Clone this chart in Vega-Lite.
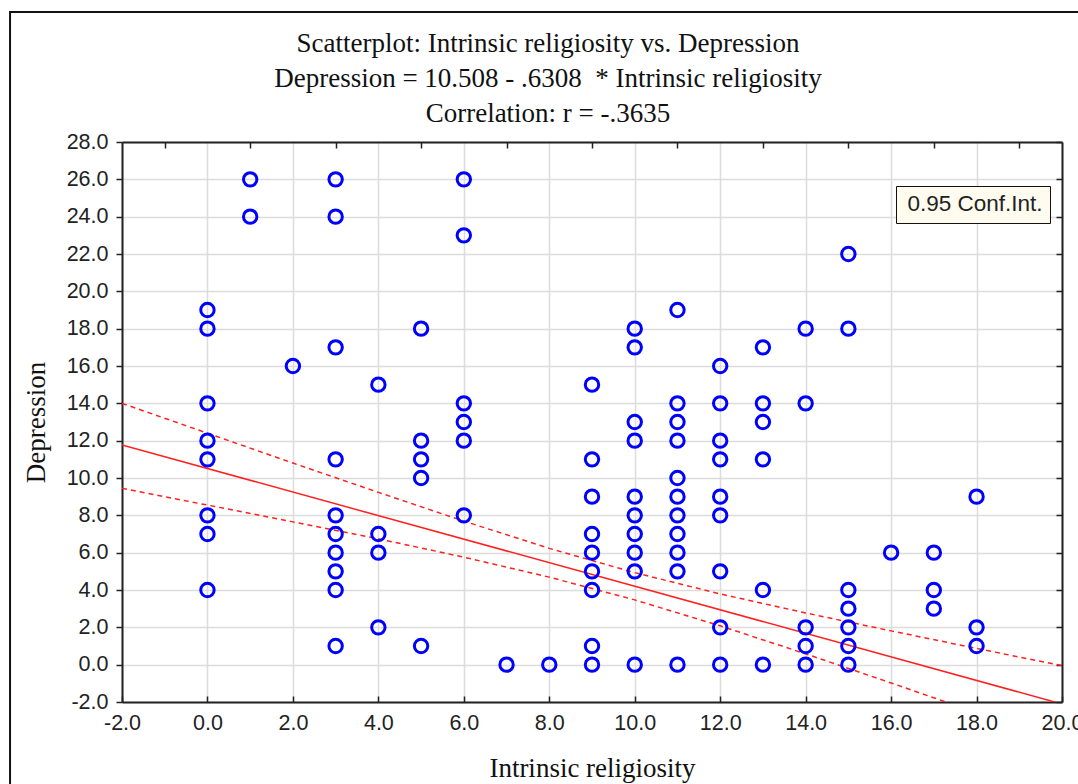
{
  "$schema": "https://vega.github.io/schema/vega-lite/v6.json",
  "width": 940,
  "height": 560,
  "autosize": "none",
  "padding": {"left": 122, "top": 142, "right": 16, "bottom": 82},
  "background": "white",
  "title": {
    "text": ["Scatterplot: Intrinsic religiosity vs. Depression", "Depression = 10.508 - .6308 \u00a0* Intrinsic religiosity", "Correlation: r = -.3635"],
    "font": "Liberation Serif",
    "fontSize": 27,
    "fontWeight": "normal",
    "color": "#111111",
    "lineHeight": 35,
    "anchor": "middle",
    "dx": -44,
    "offset": -117
  },
  "config": {
    "view": {"stroke": null},
    "axis": {
      "labelFont": "Liberation Sans",
      "labelFontSize": 21.5,
      "labelColor": "#222222",
      "labelOverlap": false,
      "labelFlush": false,
      "labelBound": false,
      "titleFont": "Liberation Serif",
      "titleFontSize": 27,
      "titleFontWeight": "normal",
      "titleColor": "#111111",
      "domainColor": "#222222",
      "domainWidth": 2,
      "ticks": true,
      "tickColor": "#222222",
      "tickWidth": 1.5,
      "gridColor": "#dcdcdc",
      "gridWidth": 1.5
    }
  },
  "resolve": {"axis": {"x": "independent", "y": "independent"}},
  "datasets": {
    "points": [
      {"religiosity": 0, "depression": 19}, {"religiosity": 0, "depression": 18}, {"religiosity": 0, "depression": 14}, {"religiosity": 0, "depression": 12}, {"religiosity": 0, "depression": 11}, {"religiosity": 0, "depression": 8}, {"religiosity": 0, "depression": 7}, {"religiosity": 0, "depression": 4},
      {"religiosity": 1, "depression": 26}, {"religiosity": 1, "depression": 24},
      {"religiosity": 2, "depression": 16},
      {"religiosity": 3, "depression": 26}, {"religiosity": 3, "depression": 24}, {"religiosity": 3, "depression": 17}, {"religiosity": 3, "depression": 11}, {"religiosity": 3, "depression": 8}, {"religiosity": 3, "depression": 7}, {"religiosity": 3, "depression": 6}, {"religiosity": 3, "depression": 5}, {"religiosity": 3, "depression": 4}, {"religiosity": 3, "depression": 1},
      {"religiosity": 4, "depression": 15}, {"religiosity": 4, "depression": 7}, {"religiosity": 4, "depression": 6}, {"religiosity": 4, "depression": 2},
      {"religiosity": 5, "depression": 18}, {"religiosity": 5, "depression": 12}, {"religiosity": 5, "depression": 11}, {"religiosity": 5, "depression": 10}, {"religiosity": 5, "depression": 1},
      {"religiosity": 6, "depression": 26}, {"religiosity": 6, "depression": 23}, {"religiosity": 6, "depression": 14}, {"religiosity": 6, "depression": 13}, {"religiosity": 6, "depression": 12}, {"religiosity": 6, "depression": 8},
      {"religiosity": 7, "depression": 0},
      {"religiosity": 8, "depression": 0},
      {"religiosity": 9, "depression": 15}, {"religiosity": 9, "depression": 11}, {"religiosity": 9, "depression": 9}, {"religiosity": 9, "depression": 7}, {"religiosity": 9, "depression": 6}, {"religiosity": 9, "depression": 5}, {"religiosity": 9, "depression": 4}, {"religiosity": 9, "depression": 1}, {"religiosity": 9, "depression": 0},
      {"religiosity": 10, "depression": 18}, {"religiosity": 10, "depression": 17}, {"religiosity": 10, "depression": 13}, {"religiosity": 10, "depression": 12}, {"religiosity": 10, "depression": 9}, {"religiosity": 10, "depression": 8}, {"religiosity": 10, "depression": 7}, {"religiosity": 10, "depression": 6}, {"religiosity": 10, "depression": 5}, {"religiosity": 10, "depression": 0},
      {"religiosity": 11, "depression": 19}, {"religiosity": 11, "depression": 14}, {"religiosity": 11, "depression": 13}, {"religiosity": 11, "depression": 12}, {"religiosity": 11, "depression": 10}, {"religiosity": 11, "depression": 9}, {"religiosity": 11, "depression": 8}, {"religiosity": 11, "depression": 7}, {"religiosity": 11, "depression": 6}, {"religiosity": 11, "depression": 5}, {"religiosity": 11, "depression": 0},
      {"religiosity": 12, "depression": 16}, {"religiosity": 12, "depression": 14}, {"religiosity": 12, "depression": 12}, {"religiosity": 12, "depression": 11}, {"religiosity": 12, "depression": 9}, {"religiosity": 12, "depression": 8}, {"religiosity": 12, "depression": 5}, {"religiosity": 12, "depression": 2}, {"religiosity": 12, "depression": 0},
      {"religiosity": 13, "depression": 17}, {"religiosity": 13, "depression": 14}, {"religiosity": 13, "depression": 13}, {"religiosity": 13, "depression": 11}, {"religiosity": 13, "depression": 4}, {"religiosity": 13, "depression": 0},
      {"religiosity": 14, "depression": 18}, {"religiosity": 14, "depression": 14}, {"religiosity": 14, "depression": 2}, {"religiosity": 14, "depression": 1}, {"religiosity": 14, "depression": 0},
      {"religiosity": 15, "depression": 22}, {"religiosity": 15, "depression": 18}, {"religiosity": 15, "depression": 4}, {"religiosity": 15, "depression": 3}, {"religiosity": 15, "depression": 2}, {"religiosity": 15, "depression": 1}, {"religiosity": 15, "depression": 0},
      {"religiosity": 16, "depression": 6},
      {"religiosity": 17, "depression": 6}, {"religiosity": 17, "depression": 4}, {"religiosity": 17, "depression": 3},
      {"religiosity": 18, "depression": 9}, {"religiosity": 18, "depression": 2}, {"religiosity": 18, "depression": 1}
    ],
    "fit": [
      {"religiosity": -2, "depression": 11.77},
      {"religiosity": 20, "depression": -2.108}
    ],
    "band": [
      {"religiosity": -2, "depression": 14.0, "bound": "upper", "ci": "0.95 Conf.Int."},
      {"religiosity": 0, "depression": 12.4, "bound": "upper", "ci": "0.95 Conf.Int."},
      {"religiosity": 2, "depression": 10.8, "bound": "upper", "ci": "0.95 Conf.Int."},
      {"religiosity": 4, "depression": 9.23, "bound": "upper", "ci": "0.95 Conf.Int."},
      {"religiosity": 6, "depression": 7.69, "bound": "upper", "ci": "0.95 Conf.Int."},
      {"religiosity": 8, "depression": 6.23, "bound": "upper", "ci": "0.95 Conf.Int."},
      {"religiosity": 10, "depression": 4.93, "bound": "upper", "ci": "0.95 Conf.Int."},
      {"religiosity": 12, "depression": 3.79, "bound": "upper", "ci": "0.95 Conf.Int."},
      {"religiosity": 14, "depression": 2.77, "bound": "upper", "ci": "0.95 Conf.Int."},
      {"religiosity": 16, "depression": 1.81, "bound": "upper", "ci": "0.95 Conf.Int."},
      {"religiosity": 18, "depression": 0.87, "bound": "upper", "ci": "0.95 Conf.Int."},
      {"religiosity": 20, "depression": -0.05, "bound": "upper", "ci": "0.95 Conf.Int."},
      {"religiosity": -2, "depression": 9.45, "bound": "lower", "ci": "0.95 Conf.Int."},
      {"religiosity": 0, "depression": 8.55, "bound": "lower", "ci": "0.95 Conf.Int."},
      {"religiosity": 2, "depression": 7.65, "bound": "lower", "ci": "0.95 Conf.Int."},
      {"religiosity": 4, "depression": 6.74, "bound": "lower", "ci": "0.95 Conf.Int."},
      {"religiosity": 6, "depression": 5.76, "bound": "lower", "ci": "0.95 Conf.Int."},
      {"religiosity": 8, "depression": 4.69, "bound": "lower", "ci": "0.95 Conf.Int."},
      {"religiosity": 10, "depression": 3.47, "bound": "lower", "ci": "0.95 Conf.Int."},
      {"religiosity": 12, "depression": 2.08, "bound": "lower", "ci": "0.95 Conf.Int."},
      {"religiosity": 14, "depression": 0.58, "bound": "lower", "ci": "0.95 Conf.Int."},
      {"religiosity": 16, "depression": -0.98, "bound": "lower", "ci": "0.95 Conf.Int."},
      {"religiosity": 18, "depression": -2.57, "bound": "lower", "ci": "0.95 Conf.Int."},
      {"religiosity": 20, "depression": -4.17, "bound": "lower", "ci": "0.95 Conf.Int."}
    ]
  },
  "layer": [
    {
      "data": {"name": "fit"},
      "mark": {"type": "line", "color": "#ff2020", "strokeWidth": 1.5, "clip": true},
      "encoding": {
        "x": {
          "field": "religiosity", "type": "quantitative",
          "scale": {"domain": [-2, 20], "nice": false, "zero": false},
          "axis": {
            "values": [-2, 0, 2, 4, 6, 8, 10, 12, 14, 16, 18, 20],
            "labelExpr": "replace(format(datum.value, '.1f'), '\u2212', '-')",
            "grid": true,
            "tickSize": -6,
            "labelPadding": 16,
            "title": "Intrinsic religiosity",
            "titlePadding": 22
          }
        },
        "y": {
          "field": "depression", "type": "quantitative",
          "scale": {"domain": [-2, 28], "nice": false, "zero": false},
          "axis": {
            "values": [-2, 0, 2, 4, 6, 8, 10, 12, 14, 16, 18, 20, 22, 24, 26, 28],
            "labelExpr": "replace(format(datum.value, '.1f'), '\u2212', '-')",
            "grid": true,
            "tickSize": 6,
            "labelPadding": 8,
            "title": "Depression",
            "titlePadding": 16
          }
        }
      }
    },
    {
      "data": {"name": "band"},
      "mark": {"type": "line", "color": "#ff2020", "strokeWidth": 1.5, "strokeDash": [5, 4], "clip": true},
      "encoding": {
        "x": {"field": "religiosity", "type": "quantitative", "axis": null},
        "y": {"field": "depression", "type": "quantitative", "axis": null},
        "detail": {"field": "bound", "type": "nominal"},
        "strokeDash": {
          "field": "ci", "type": "nominal",
          "scale": {"range": [[5, 4]]},
          "legend": {
            "title": null,
            "orient": "none",
            "legendX": 774,
            "legendY": 44,
            "symbolSize": 0,
            "symbolStrokeWidth": 0,
            "symbolOpacity": 0,
            "labelOffset": -18,
            "labelFont": "Liberation Sans",
            "labelFontSize": 22.5,
            "labelColor": "#222222",
            "fillColor": "#fffbef",
            "strokeColor": "#111111",
            "padding": 7
          }
        }
      }
    },
    {
      "data": {"name": "points"},
      "mark": {"type": "point", "shape": "circle", "filled": false, "color": "#0000ff", "strokeWidth": 3, "size": 180, "opacity": 1},
      "encoding": {
        "x": {"field": "religiosity", "type": "quantitative", "axis": null},
        "y": {"field": "depression", "type": "quantitative", "axis": null}
      }
    },
    {
      "data": {"name": "fit"},
      "mark": {"type": "point", "opacity": 0},
      "encoding": {
        "x": {
          "field": "religiosity", "type": "quantitative",
          "axis": {
            "orient": "top",
            "values": [-1, 1, 3, 5, 7, 9, 11, 13, 15, 17, 19],
            "labels": false,
            "grid": false,
            "tickSize": -6,
            "title": null
          }
        },
        "y": {
          "field": "depression", "type": "quantitative",
          "axis": {
            "orient": "right",
            "values": [-2, 0, 2, 4, 6, 8, 10, 12, 14, 16, 18, 20, 22, 24, 26, 28],
            "labels": false,
            "grid": false,
            "tickSize": -6,
            "title": null
          }
        }
      }
    },
    {
      "data": {"values": [{}]},
      "mark": {"type": "rect", "fill": null, "fillOpacity": 0, "stroke": "#111111", "strokeWidth": 2, "clip": false},
      "encoding": {
        "x": {"datum": -4.62, "axis": null},
        "x2": {"datum": 40},
        "y": {"datum": 34.96, "axis": null},
        "y2": {"datum": -40}
      }
    }
  ]
}
